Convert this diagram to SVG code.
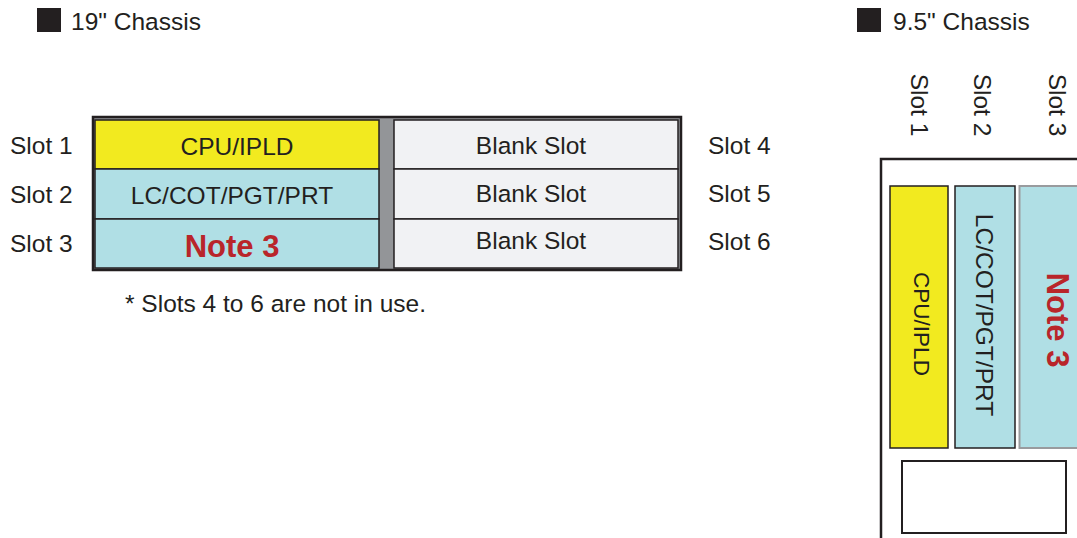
<svg xmlns="http://www.w3.org/2000/svg" width="1077" height="538" viewBox="0 0 1077 538">
<style>
text{font-family:"Liberation Sans",Arial,sans-serif;fill:#231f20;font-size:24.5px}
.c{text-anchor:middle}
.note{font-weight:bold;fill:#b9252a;font-size:31px}
.yel{fill:#f2ea1f;stroke:#231f20;stroke-width:1.5}
.cyan{fill:#b0dfe5;stroke:#231f20;stroke-width:1.5}
.blank{fill:#f1f2f4;stroke:#231f20;stroke-width:1.5}
.sq{fill:#231f20}
</style>
<rect width="1077" height="538" fill="#fff"/>
<g id="legend19">
<rect class="sq" x="37" y="8" width="24" height="24"/>
<text x="71" y="30">19" Chassis</text>
</g>
<g id="legend95">
<rect class="sq" x="857" y="8" width="24" height="24"/>
<text x="893" y="30">9.5" Chassis</text>
</g>
<g id="chassis19">
<rect x="93" y="117" width="588" height="153" fill="#939598" stroke="#231f20" stroke-width="2.5"/>
</g>
<g id="slot1"><rect class="yel" x="95" y="120" width="284" height="49"/><text class="c" x="237" y="155">CPU/IPLD</text></g>
<g id="slot2"><rect class="cyan" x="95" y="169" width="284" height="50"/><text class="c" x="232" y="204">LC/COT/PGT/PRT</text></g>
<g id="slot3"><rect class="cyan" x="95" y="219" width="284" height="49"/><text class="c note" x="232" y="257">Note 3</text></g>
<g id="slot4"><rect class="blank" x="394" y="120" width="284" height="49"/><text class="c" x="531" y="154">Blank Slot</text></g>
<g id="slot5"><rect class="blank" x="394" y="169" width="284" height="50"/><text class="c" x="531" y="202">Blank Slot</text></g>
<g id="slot6"><rect class="blank" x="394" y="219" width="284" height="49"/><text class="c" x="531" y="249">Blank Slot</text></g>
<g id="labels19">
<text x="10" y="154">Slot 1</text>
<text x="10" y="203">Slot 2</text>
<text x="10" y="252">Slot 3</text>
<text x="708" y="154">Slot 4</text>
<text x="708" y="202">Slot 5</text>
<text x="708" y="250">Slot 6</text>
<text x="125" y="312">* Slots 4 to 6 are not in use.</text>
</g>
<g id="chassis95">
<rect x="881" y="159" width="230" height="400" fill="#fff" stroke="#231f20" stroke-width="2.5"/>
<g transform="translate(920,105) rotate(90)"><text class="c" dy="0.35em">Slot 1</text></g>
<g transform="translate(983,105) rotate(90)"><text class="c" dy="0.35em">Slot 2</text></g>
<g transform="translate(1058,105) rotate(90)"><text class="c" dy="0.35em">Slot 3</text></g>
</g>
<g id="vslot1"><rect class="yel" x="890" y="186" width="58" height="262"/><g transform="translate(921.5,324) rotate(90)"><text class="c" dy="0.35em" style="font-size:22.5px">CPU/IPLD</text></g></g>
<g id="vslot2"><rect class="cyan" x="955" y="186" width="60" height="262"/><g transform="translate(985,315) rotate(90)"><text class="c" dy="0.35em">LC/COT/PGT/PRT</text></g></g>
<g id="vslot3"><rect x="1019.5" y="186" width="70" height="262" fill="#b0dfe5" stroke="#999b9e" stroke-width="2"/><g transform="translate(1058,320) rotate(90)"><text class="c note" dy="0.35em">Note 3</text></g></g>
<g id="vbox"><rect x="902" y="461" width="164" height="72" fill="#fff" stroke="#231f20" stroke-width="2"/></g>
</svg>
